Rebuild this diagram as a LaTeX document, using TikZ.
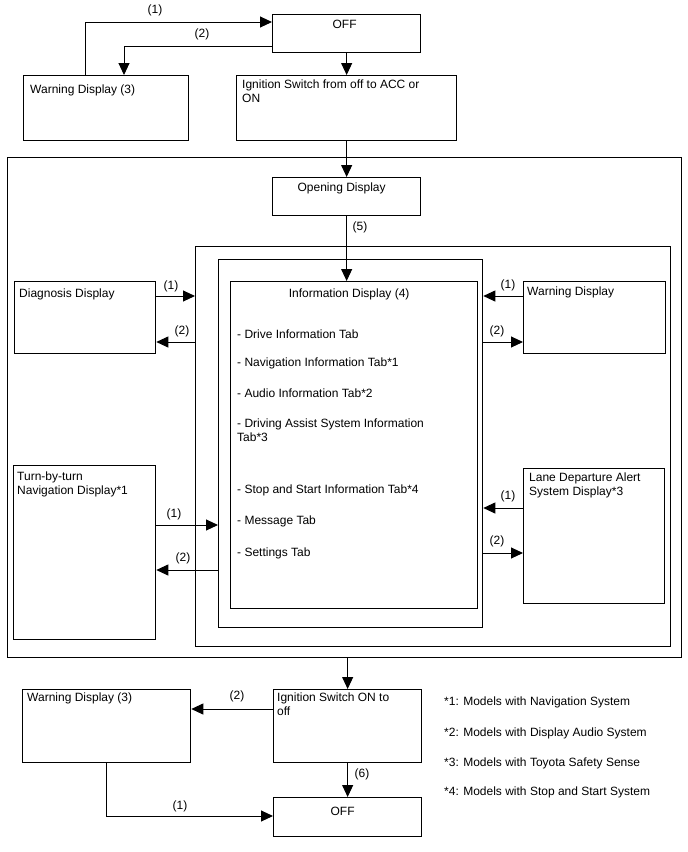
\documentclass[tikz,border=0pt]{standalone}
\usepackage{fontspec}
\setmainfont{Liberation Sans}
\usetikzlibrary{arrows.meta}

\begin{document}
\begin{tikzpicture}[
    x=1pt, y=-1pt,
    box/.style   = {rectangle, draw=black, line width=1.3pt,
                    anchor=north west, inner sep=0pt},
    txt/.style   = {anchor=north west, inner sep=0pt, align=left,
                    font=\fontsize{12}{14}\selectfont},
    ctxt/.style  = {anchor=north, inner sep=0pt,
                    font=\fontsize{12}{14}\selectfont},
    conn/.style  = {line width=1pt, draw=black,
                    -{Triangle[length=12pt, width=11pt]}},
    lbl/.style   = {inner sep=0pt, font=\fontsize{12}{14}\selectfont},
]

\fill[white] (0,0) rectangle (688,852);
\useasboundingbox (0,0) rectangle (688,852);

%% ============================================================
%% TOP: OFF -> ignition
%% ============================================================

\node[box, minimum width=148pt, minimum height=38pt] (offA)  at (272,14)  {};
\node[box, minimum width=165pt, minimum height=65pt] (warnA) at (23,75)   {};
\node[box, minimum width=220pt, minimum height=65pt] (ignA)  at (236,75)  {};

\node[ctxt] (offAT)  at ([xshift=-2pt, yshift=-6pt]offA.north)      {OFF};
\node[txt]  (warnAT) at ([xshift=7pt, yshift=-10pt]warnA.north west) {Warning Display (3)};
\node[txt]  (ignAT)  at ([xshift=6pt, yshift=-5pt]ignA.north west)   {Ignition Switch from off to ACC or\\ON};

%% ============================================================
%% MAIN FRAME
%% ============================================================

\node[box, minimum width=674pt, minimum height=500pt] (outer)    at (7,157)   {};
\node[box, minimum width=148pt, minimum height=38pt]  (opening)  at (272,177) {};
\node[box, minimum width=475pt, minimum height=400pt] (midFrame) at (195,246) {};
\node[box, minimum width=264pt, minimum height=368pt] (tabFrame) at (218,259) {};
\node[box, minimum width=247pt, minimum height=327pt] (info)     at (230,281) {};

\node[box, minimum width=141pt, minimum height=72pt]  (diag)  at (14,281)  {};
\node[box, minimum width=142pt, minimum height=72pt]  (warnR) at (523,281) {};
\node[box, minimum width=142pt, minimum height=174pt] (turn)  at (13,465)  {};
\node[box, minimum width=141pt, minimum height=135pt] (lane)  at (523,468) {};

\node[ctxt] (openingT) at ([xshift=-5pt, yshift=-6pt]opening.north) {Opening Display};
\node[ctxt] (infoT)    at ([xshift=-5pt, yshift=-8pt]info.north)    {Information Display (4)};
\node[txt]  (tabsT)    at ([xshift=7pt, yshift=-49pt]info.north west)
    {- Drive Information Tab\\[14pt]
     - Navigation Information Tab*1\\[17pt]
     - Audio Information Tab*2\\[16pt]
     - Driving Assist System Information\\
     Tab*3\\[38pt]
     - Stop and Start Information Tab*4\\[17pt]
     - Message Tab\\[18pt]
     - Settings Tab};

\node[txt] (diagT)  at ([xshift=5pt, yshift=-8pt]diag.north west)  {Diagnosis Display};
\node[txt] (warnRT) at ([xshift=4pt, yshift=-6pt]warnR.north west) {Warning Display};
\node[txt] (turnT)  at ([xshift=4pt, yshift=-7pt]turn.north west)  {Turn-by-turn\\Navigation Display*1};
\node[txt] (laneT)  at ([xshift=6pt, yshift=-5pt]lane.north west)  {Lane Departure Alert\\System Display*3};

%% ============================================================
%% BOTTOM: ignition off -> OFF
%% ============================================================

\node[box, minimum width=148pt, minimum height=73pt] (ignB)  at (273,689) {};
\node[box, minimum width=168pt, minimum height=73pt] (warnB) at (22,689)  {};
\node[box, minimum width=148pt, minimum height=39pt] (offB)  at (273,797) {};

\node[txt]  (ignBT)  at ([xshift=4pt, yshift=-4pt]ignB.north west)  {Ignition Switch ON to\\off};
\node[txt]  (warnBT) at ([xshift=5pt, yshift=-4pt]warnB.north west) {Warning Display (3)};
\node[ctxt] (offBT)  at ([xshift=-5pt, yshift=-10pt]offB.north)     {OFF};

\node[txt] (notes) at (444,697)
    {{*}1: Models with Navigation System\\[17pt]
     {*}2: Models with Display Audio System\\[16pt]
     {*}3: Models with Toyota Safety Sense\\[15pt]
     {*}4: Models with Stop and Start System};

%% ============================================================
%% CONNECTIONS
%% ============================================================

%% top
\draw[conn] ([xshift=62pt]warnA.north west) |- ([yshift=-8pt]offA.north west);
\draw[conn] ([yshift=7pt]offA.south west) -| ([xshift=101pt]warnA.north west);
\draw[conn] (offA.south) -- (ignA.north);
\draw[conn] (ignA.south) -- (opening.north);
\draw[conn] (opening.south) -- (opening.south |- info.north);

%% left side
\coordinate (dOut) at ([yshift=-15pt]diag.north east);
\coordinate (dIn)  at ([yshift=-61pt]diag.north east);
\draw[conn] (dOut) -- (dOut -| midFrame.west);
\draw[conn] (dIn -| midFrame.west) -- (dIn);

\coordinate (tOut) at ([yshift=-60pt]turn.north east);
\coordinate (tIn)  at ([yshift=-105pt]turn.north east);
\draw[conn] (tOut) -- (tOut -| tabFrame.west);
\draw[conn] (tIn -| tabFrame.west) -- (tIn);

%% right side
\coordinate (wOut) at ([yshift=-15pt]warnR.north west);
\coordinate (wIn)  at ([yshift=-61pt]warnR.north west);
\draw[conn] (wOut) -- (wOut -| tabFrame.east);
\draw[conn] (wIn -| tabFrame.east) -- (wIn);

\coordinate (lOut) at ([yshift=-40pt]lane.north west);
\coordinate (lIn)  at ([yshift=-85pt]lane.north west);
\draw[conn] (lOut) -- (lOut -| tabFrame.east);
\draw[conn] (lIn -| tabFrame.east) -- (lIn);

%% bottom
\coordinate (iOut) at ([yshift=-20pt]ignB.north west);
\draw[conn] (ignB.north |- outer.south) -- (ignB.north);
\draw[conn] (iOut) -- (iOut -| warnB.east);
\draw[conn] (ignB.south) -- (offB.north);
\draw[conn] ([xshift=84pt]warnB.south west) |- ([yshift=-19pt]offB.north west);

%% ============================================================
%% STEP NUMBERS
%% ============================================================

\node[lbl] (nTopA) at (155,10)  {(1)};
\node[lbl] (nTopB) at (202,34)  {(2)};
\node[lbl] (nOpen) at (360,227) {(5)};
\node[lbl] (nDiaA) at (171,286) {(1)};
\node[lbl] (nDiaB) at (182,331) {(2)};
\node[lbl] (nWarA) at (508,285) {(1)};
\node[lbl] (nWarB) at (497,331) {(2)};
\node[lbl] (nTurA) at (174,514) {(1)};
\node[lbl] (nTurB) at (183,558) {(2)};
\node[lbl] (nLanA) at (508,496) {(1)};
\node[lbl] (nLanB) at (497,541) {(2)};
\node[lbl] (nBotB) at (237,696) {(2)};
\node[lbl] (nBotS) at (362,774) {(6)};
\node[lbl] (nBotA) at (180,806) {(1)};

\end{tikzpicture}
\end{document}
